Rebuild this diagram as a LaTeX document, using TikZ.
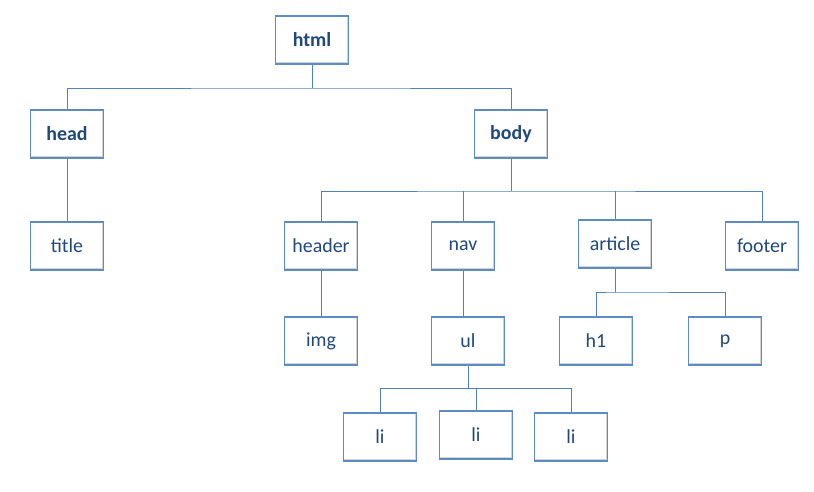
\documentclass[tikz,border=0pt]{standalone}
\usepackage{fontspec}
\setmainfont{Carlito}
\usetikzlibrary{%
  arrows,%
  shadows,%
  calc,%
  positioning% wg. " of "
}
\definecolor{boxblue}{RGB}{91,140,196}
\definecolor{boxdark}{RGB}{38,64,96}
\definecolor{txtblue}{RGB}{31,73,125}
\definecolor{lineblue}{RGB}{79,129,189}

\begin{document}
\begin{tikzpicture}[
  x=0.03cm, y=-0.03cm,
  font=\fontsize{17}{20}\selectfont, >=stealth',
  tag/.style={rectangle, minimum height=1.44cm, minimum width=2.2cm, draw=boxblue, line width=1pt, fill=white, text=txtblue,
    drop shadow={shadow xshift=0.6pt, shadow yshift=-0.6pt, fill=boxdark, opacity=1},
    path picture={\draw[gray!35, line width=3pt] (path picture bounding box.south west) -- (path picture bounding box.south east) -- (path picture bounding box.north east);}},
  bigtag/.style={tag, font=\fontsize{17}{20}\selectfont\bfseries},
  link/.style={draw=lineblue, line width=0.8pt}
]
\useasboundingbox (0,0) rectangle (814,491);

% tree nodes
\node[bigtag] (html) at (312,40) {html};
\node[bigtag] (head) at (67,134) {head};
\node[bigtag] (body) at (511,134) {body};
\node[tag] (title) at (67,246) {title};
\node[tag] (header) at (321,246) {header};
\node[tag, minimum width=1.9cm] (nav) at (463,246) {nav};
\node[tag] (article) at (615,244) {article};
\node[tag] (footer) at (762,246) {footer};
\node[tag] (img) at (321,341) {img};
\node[tag] (ul) at (468,341) {ul};
\node[tag] (h1) at (596,341) {h1};
\node[tag] (p) at (725,341) {p};
\node[tag] (li1) at (380,437) {li};
\node[tag] (li2) at (476,435) {li};
\node[tag] (li3) at (571,437) {li};

% junctions
\coordinate (jhtml) at (312,88);
\coordinate (jbody) at (511,191);
\coordinate (jart) at (615,292);
\coordinate (jul) at (468,388);

% connectors
\draw[link] (html.south) -- (jhtml);
\draw[link] (head.north) |- (jhtml) -| (body.north);
\draw[link] (head.south) -- (title.north);
\draw[link] (body.south) -- (jbody);
\draw[link] (header.north) |- (jbody) -| (footer.north);
\draw[link] (nav.north) -- (nav.north |- jbody);
\draw[link] (article.north) -- (article.north |- jbody);
\draw[link] (header.south) -- (img.north);
\draw[link] (nav.south) -- (nav.south |- ul.north);
\draw[link] (article.south) -- (jart);
\draw[link] (h1.north) |- (jart) -| (p.north);
\draw[link] (ul.south) -- (jul);
\draw[link] (li1.north) |- (jul) -| (li3.north);
\draw[link] (li2.north) -- (li2.north |- jul);
\end{tikzpicture}
\end{document}
